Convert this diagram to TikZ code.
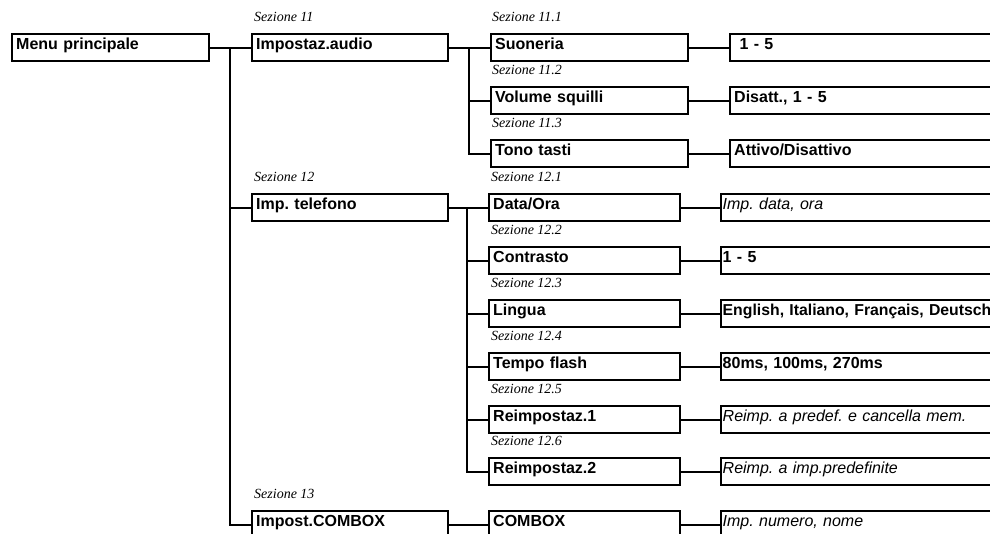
\documentclass[tikz,border=0pt]{standalone}
\usepackage{fontspec}
\setmainfont{Liberation Sans}
\newfontfamily\sezfont{Liberation Serif}
\begin{document}
\begin{tikzpicture}[x=1pt,y=-1pt,
  box/.style={draw, line width=2.4pt, anchor=north west, inner xsep=4pt, inner ysep=0pt,
    text height=15.5pt, text depth=11.5pt, align=left,
    font=\fontsize{16}{19}\selectfont\bfseries\frenchspacing},
  valbox/.style={box, text width=292pt},
  valit/.style={box, text width=292pt, font=\fontsize{16}{19}\selectfont\itshape\frenchspacing},
  tight/.style={inner xsep=1.5pt, text width=297pt},
  wone/.style={text width=189pt},
  wtwo/.style={text width=188pt},
  wthree/.style={text width=183pt},
  sez/.style={anchor=base west, inner sep=0pt, font=\fontsize{14}{16}\sezfont\itshape},
  conn/.style={line width=2pt}]
\useasboundingbox (0,0) rectangle (990,534);
\clip (0,0) rectangle (990,534);
% level 1
\node[box,wone] (menu) at (11,33) {Menu principale};
% level 2
\node[box,wtwo] (audio) at (251,33) {Impostaz.audio};
\node[box,wtwo] (tel) at (251,193) {Imp. telefono};
\node[box,wtwo] (cbx) at (251,510) {Impost.COMBOX};
% audio children
\node[box,wone] (suo) at (490,33) {Suoneria};
\node[box,wone] (vol) at (490,86) {Volume squilli};
\node[box,wone] (ton) at (490,139) {Tono tasti};
\node[valbox] (vsuo) at (729,33) {\ 1 - 5};
\node[valbox] (vvol) at (729,86) {Disatt., 1 - 5};
\node[valbox] (vton) at (729,139) {Attivo/Disattivo};
% telefono children
\node[box,wthree] (dat) at (488,193) {Data/Ora};
\node[box,wthree] (con) at (488,246) {Contrasto};
\node[box,wthree] (lin) at (488,299) {Lingua};
\node[box,wthree] (tem) at (488,352) {Tempo flash};
\node[box,wthree] (re1) at (488,405) {Reimpostaz.1};
\node[box,wthree] (re2) at (488,457) {Reimpostaz.2};
\node[valit,tight] (vdat) at (720,193) {Imp. data, ora};
\node[valbox,tight] (vcon) at (720,246) {1 - 5};
\node[valbox,tight,font=\fontsize{15.8}{19}\selectfont\bfseries] (vlin) at (720,299) {English, Italiano, Français, Deutsch};
\node[valbox,tight] (vtem) at (720,352) {80ms, 100ms, 270ms};
\node[valit,tight] (vre1) at (720,405) {Reimp. a predef. e cancella mem.};
\node[valit,tight] (vre2) at (720,457) {Reimp. a imp.predefinite};
% combox child
\node[box,wthree] (cb) at (488,510) {COMBOX};
\node[valit,tight] (vcb) at (720,510) {Imp. numero, nome};
% section labels
\node[sez] (s11) at ([xshift=3pt,yshift=11.5pt]audio.north west) {Sezione 11};
\node[sez] (s12) at ([xshift=3pt,yshift=11.5pt]tel.north west) {Sezione 12};
\node[sez] (s13) at ([xshift=3pt,yshift=11.5pt]cbx.north west) {Sezione 13};
\node[sez] (s111) at ([xshift=2pt,yshift=11.5pt]suo.north west) {Sezione 11.1};
\node[sez] (s112) at ([xshift=2pt,yshift=11.5pt]vol.north west) {Sezione 11.2};
\node[sez] (s113) at ([xshift=2pt,yshift=11.5pt]ton.north west) {Sezione 11.3};
\node[sez] (s121) at ([xshift=3pt,yshift=11.5pt]dat.north west) {Sezione 12.1};
\node[sez] (s122) at ([xshift=3pt,yshift=11.5pt]con.north west) {Sezione 12.2};
\node[sez] (s123) at ([xshift=3pt,yshift=11.5pt]lin.north west) {Sezione 12.3};
\node[sez] (s124) at ([xshift=3pt,yshift=11.5pt]tem.north west) {Sezione 12.4};
\node[sez] (s125) at ([xshift=3pt,yshift=11.5pt]re1.north west) {Sezione 12.5};
\node[sez] (s126) at ([xshift=3pt,yshift=11.5pt]re2.north west) {Sezione 12.6};
% trunk coordinates
\coordinate (t1) at (230,0);
\coordinate (t2) at (469,0);
\coordinate (t3) at (467,0);
% connectors level 1 -> 2
\draw[conn] (menu.east) -- (audio.west);
\draw[conn] (t1 |- audio.west) |- (cbx.west);
\draw[conn] (t1 |- tel.west) -- (tel.west);
% audio -> children
\draw[conn] (audio.east) -- (suo.west);
\draw[conn] (t2 |- suo.west) |- (ton.west);
\draw[conn] (t2 |- vol.west) -- (vol.west);
% telefono -> children
\draw[conn] (tel.east) -- (dat.west);
\draw[conn] (t3 |- dat.west) |- (re2.west);
\draw[conn] (t3 |- con.west) -- (con.west);
\draw[conn] (t3 |- lin.west) -- (lin.west);
\draw[conn] (t3 |- tem.west) -- (tem.west);
\draw[conn] (t3 |- re1.west) -- (re1.west);
% combox
\draw[conn] (cbx.east) -- (cb.west);
% values
\draw[conn] (suo.east) -- (vsuo.west);
\draw[conn] (vol.east) -- (vvol.west);
\draw[conn] (ton.east) -- (vton.west);
\draw[conn] (dat.east) -- (vdat.west);
\draw[conn] (con.east) -- (vcon.west);
\draw[conn] (lin.east) -- (vlin.west);
\draw[conn] (tem.east) -- (vtem.west);
\draw[conn] (re1.east) -- (vre1.west);
\draw[conn] (re2.east) -- (vre2.west);
\draw[conn] (cb.east) -- (vcb.west);
\end{tikzpicture}
\end{document}
